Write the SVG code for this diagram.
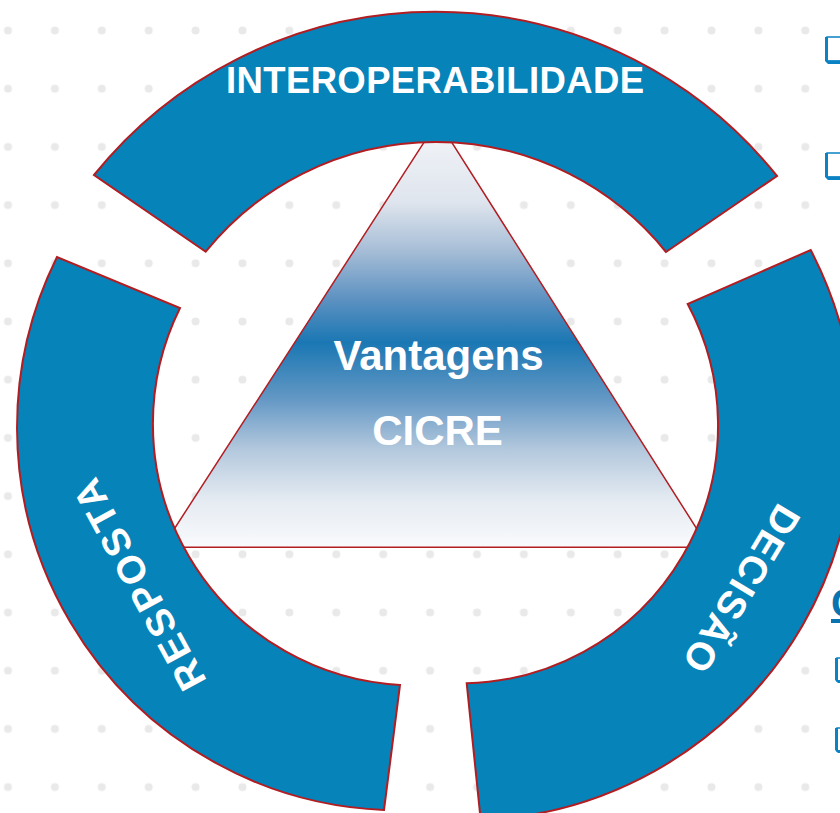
<svg xmlns="http://www.w3.org/2000/svg" width="840" height="813" viewBox="0 0 840 813">
  <defs>
    <pattern id="dots" patternUnits="userSpaceOnUse" x="-15.45" y="1.4" width="46.9" height="58.2">
      <circle cx="23.45" cy="29.1" r="4" fill="#e9e9e9"/>
    </pattern>
    <linearGradient id="triGrad" x1="0" y1="0" x2="0" y2="1">
      <stop offset="0" stop-color="#f4f6f9"/>
      <stop offset="0.19" stop-color="#dfe5ee"/>
      <stop offset="0.30" stop-color="#a9bfd7"/>
      <stop offset="0.42" stop-color="#5c91c1"/>
      <stop offset="0.52" stop-color="#1a77b3"/>
      <stop offset="0.65" stop-color="#6297c4"/>
      <stop offset="0.77" stop-color="#b3c8dd"/>
      <stop offset="0.89" stop-color="#e5ebf2"/>
      <stop offset="1" stop-color="#f9fafc"/>
    </linearGradient>
    <style>
      .seg { fill: #0683b8; stroke: #b21d22; stroke-width: 2; stroke-linejoin: miter; }
      .tri { fill: url(#triGrad); stroke: #b21d22; stroke-width: 1.5; }
      .lbl { font-family: "Liberation Sans", Arial, sans-serif; font-weight: bold; fill: #ffffff; text-anchor: middle; }
      .box { fill: #ffffff; stroke: #0a82c4; stroke-width: 1.5; }
      .boxsh { fill: #0a82c4; }
    </style>
  </defs>

  <rect x="0" y="0" width="840" height="813" fill="#ffffff"/>
  <rect x="0" y="0" width="840" height="813" fill="url(#dots)"/>

  <g id="triangle">
    <polygon class="tri" points="438,120.7 708.5,547.3 162.4,547.3"/>
    <text class="lbl" x="438.5" y="370" font-size="42">Vantagens</text>
    <text class="lbl" x="437.5" y="445" font-size="42">CICRE</text>
  </g>

  <g id="seg-interoperabilidade">
    <path class="seg" d="M 94 175 A 438 438 0 0 1 777 176 L 666 252 A 296 296 0 0 0 205.7 251.7 Z"/>
    <text class="lbl" x="435" y="93" font-size="36.5" textLength="418" lengthAdjust="spacing">INTEROPERABILIDADE</text>
  </g>

  <g id="seg-resposta">
    <path class="seg" d="M 57 257 A 383 383 0 0 0 384 810 L 400 685 A 261.5 261.5 0 0 1 180 308 Z"/>
    <text class="lbl" font-size="39" textLength="234" lengthAdjust="spacing" transform="translate(139 585) rotate(-118.6)" x="0" y="14">RESPOSTA</text>
  </g>

  <g id="seg-decisao">
    <path class="seg" d="M 810.7 250 A 390 390 0 0 1 480.7 820 L 466.7 683.3 A 258 258 0 0 0 687.7 304 Z"/>
    <text class="lbl" font-size="39" textLength="188" lengthAdjust="spacing" transform="translate(742 589) rotate(121.2)" x="0" y="14">DECISÃO</text>
  </g>

  <g id="connectors"></g>

  <g id="right-edge">
    <rect class="box" x="827" y="37" width="20" height="24"/>
    <path class="boxsh" d="M 825 37 L 828 37 L 828 60.5 L 842 60.5 L 842 64 L 828 64 L 825 61 Z"/>
    <rect class="box" x="827" y="153" width="20" height="24"/>
    <path class="boxsh" d="M 825 153 L 828 153 L 828 176.5 L 842 176.5 L 842 180 L 828 180 L 825 177 Z"/>
    <text x="831" y="617" font-family="Liberation Sans, Arial, sans-serif" font-weight="bold" font-size="40" fill="#0a74b0" text-decoration="underline">C</text>
    <rect class="box" x="837" y="658" width="12" height="23"/>
    <path class="boxsh" d="M 835 658 L 838 658 L 838 680 L 842 680 L 842 683 L 838 683 L 835 680 Z"/>
    <rect class="box" x="837" y="728" width="12" height="23"/>
    <path class="boxsh" d="M 835 728 L 838 728 L 838 750 L 842 750 L 842 753 L 838 753 L 835 750 Z"/>
  </g>
</svg>
